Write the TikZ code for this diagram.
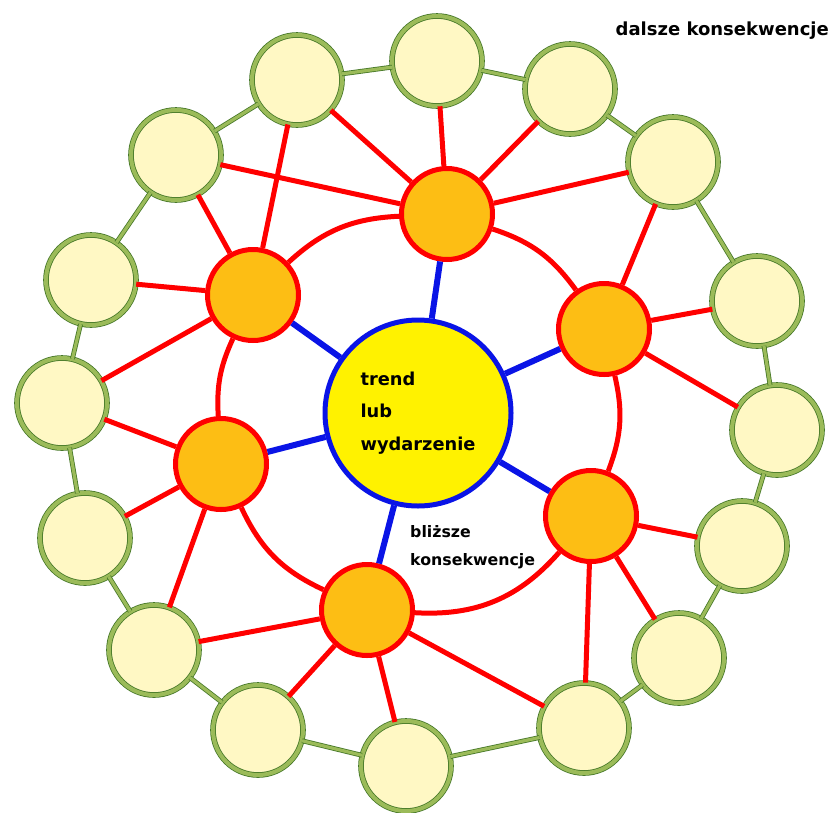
\documentclass[tikz,border=0pt]{standalone}
\usepackage{fontspec}
\setmainfont{DejaVu Sans}

\definecolor{farfill}{RGB}{255,248,196}
\definecolor{farband}{RGB}{155,187,89}
\definecolor{farline}{RGB}{70,120,40}
\definecolor{hubfill}{RGB}{253,190,20}
\definecolor{coreyellow}{RGB}{255,242,0}
\definecolor{coreblue}{RGB}{10,20,230}

\tikzset{
  far/.style={circle, minimum size=90pt, inner sep=0pt, fill=farfill,
    draw=farline, line width=0.8pt, double=farband, double distance=4pt},
  hub/.style={circle, minimum size=91pt, inner sep=0pt, fill=hubfill,
    draw=red, line width=5pt},
  core/.style={circle, minimum size=186pt, inner sep=0pt, fill=coreyellow,
    draw=coreblue, line width=5pt},
  farlink/.style={draw=farline, line width=0.8pt, double=farband, double distance=3.2pt},
  spoke/.style={draw=red, line width=5pt},
  corelink/.style={draw=coreblue, line width=6pt}
}

\begin{document}
\begin{tikzpicture}[x=1pt, y=-1pt]

  \useasboundingbox (0,0) rectangle (832,812);

  % centre
  \node[core, align=left, font={\fontsize{17.8}{32.5}\selectfont\bfseries}] (event) at (418,413) {trend\\lub\\wydarzenie};

  % blizsze konsekwencje
  \node[hub] (h1) at (447,214) {};
  \node[hub] (h2) at (604,329) {};
  \node[hub] (h3) at (591,516) {};
  \node[hub] (h4) at (367,610) {};
  \node[hub] (h5) at (221,464) {};
  \node[hub] (h6) at (253,295) {};

  % dalsze konsekwencje
  \node[far] (g1) at (437,61) {};
  \node[far] (g2) at (570,89) {};
  \node[far] (g3) at (673,162) {};
  \node[far] (g4) at (757,301) {};
  \node[far] (g5) at (777,430) {};
  \node[far] (g6) at (742,546) {};
  \node[far] (g7) at (679,658) {};
  \node[far] (g8) at (584,728) {};
  \node[far] (g9) at (406,766) {};
  \node[far] (g10) at (258,730) {};
  \node[far] (g11) at (154,650) {};
  \node[far] (g12) at (85,538) {};
  \node[far] (g13) at (62,403) {};
  \node[far] (g14) at (91,280) {};
  \node[far] (g15) at (176,155) {};
  \node[far] (g16) at (297,80) {};

  % centre to hubs
  \draw[corelink] (event) -- (h1);
  \draw[corelink] (event) -- (h2);
  \draw[corelink] (event) -- (h3);
  \draw[corelink] (event) -- (h4);
  \draw[corelink] (event) -- (h5);
  \draw[corelink] (event) -- (h6);

  % ring of hubs
  \draw[spoke] (h2) to[bend right=18] (h1);
  \draw[spoke] (h1) to[bend right=20] (h6);
  \draw[spoke] (h6) to[bend right=14] (h5);
  \draw[spoke] (h5) to[bend right=20] (h4);
  \draw[spoke] (h4) to[bend right=26] (h3);
  \draw[spoke] (h3) to[bend right=17] (h2);

  % hubs to outer circles
  \draw[spoke] (h1) -- (g1);
  \draw[spoke] (h1) -- (g2);
  \draw[spoke] (h1) -- (g3);
  \draw[spoke] (h1) -- (g16);
  \draw[spoke] (h1) -- (g15);
  \draw[spoke] (h2) -- (g3);
  \draw[spoke] (h2) -- (g4);
  \draw[spoke] (h2) -- (g5);
  \draw[spoke] (h3) -- (g6);
  \draw[spoke] (h3) -- (g7);
  \draw[spoke] (h3) -- (g8);
  \draw[spoke] (h4) -- (g8);
  \draw[spoke] (h4) -- (g9);
  \draw[spoke] (h4) -- (g10);
  \draw[spoke] (h4) -- (g11);
  \draw[spoke] (h5) -- (g13);
  \draw[spoke] (h5) -- (g12);
  \draw[spoke] (h5) -- (g11);
  \draw[spoke] (h6) -- (g16);
  \draw[spoke] (h6) -- (g15);
  \draw[spoke] (h6) -- (g14);
  \draw[spoke] (h6) -- (g13);

  % outer ring
  \draw[farlink] (g1) -- (g2);
  \draw[farlink] (g2) -- (g3);
  \draw[farlink] (g3) -- (g4);
  \draw[farlink] (g4) -- (g5);
  \draw[farlink] (g5) -- (g6);
  \draw[farlink] (g6) -- (g7);
  \draw[farlink] (g7) -- (g8);
  \draw[farlink] (g8) -- (g9);
  \draw[farlink] (g9) -- (g10);
  \draw[farlink] (g10) -- (g11);
  \draw[farlink] (g11) -- (g12);
  \draw[farlink] (g12) -- (g13);
  \draw[farlink] (g13) -- (g14);
  \draw[farlink] (g14) -- (g15);
  \draw[farlink] (g15) -- (g16);
  \draw[farlink] (g16) -- (g1);

  % labels
  \node[inner sep=0pt, align=left, anchor=west, font={\fontsize{15.8}{28}\selectfont\bfseries}] (nearlabel) at (410,547) {bliższe\\konsekwencje};
  \node[inner sep=0pt, anchor=east, font={\fontsize{18}{20}\selectfont\bfseries}] (farlabel) at (829,31) {dalsze konsekwencje};

\end{tikzpicture}
\end{document}
